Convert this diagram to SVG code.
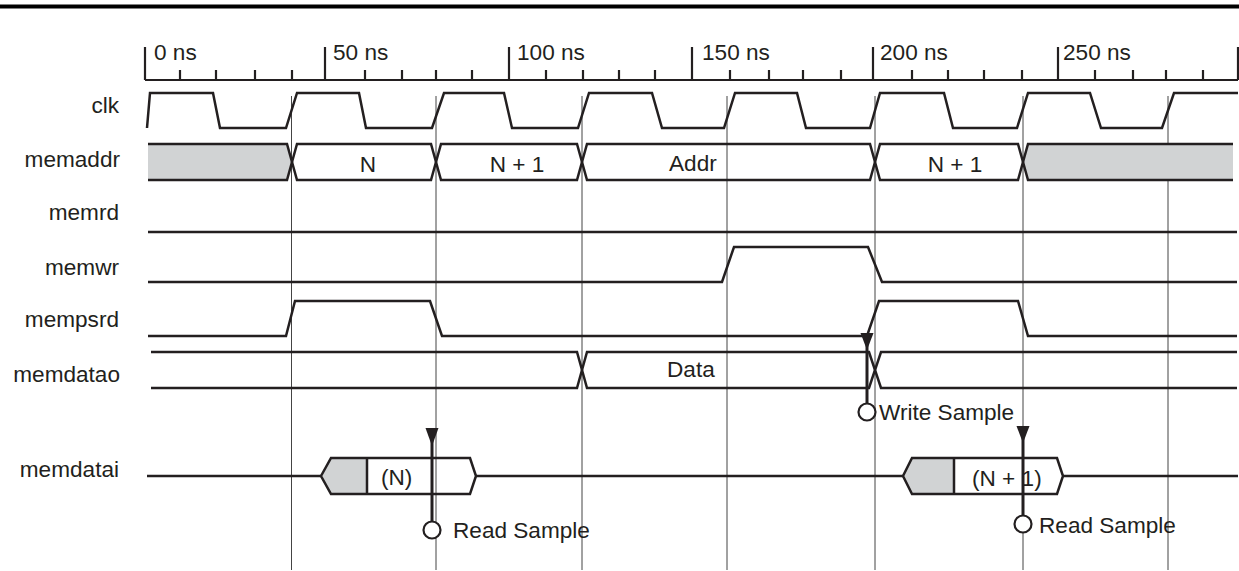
<svg xmlns="http://www.w3.org/2000/svg" width="1239" height="571" viewBox="0 0 1239 571">
<style>
text{font-family:"Liberation Sans",Arial,sans-serif;font-size:22.6px;fill:#231f20}
.lbl{text-anchor:end}
.mid{text-anchor:middle}
.w{fill:none;stroke:#231f20;stroke-width:2.5;stroke-linejoin:miter}
.gray{fill:#d1d3d4;stroke:none}
.grid{stroke:#444;stroke-width:1}
.tick{stroke:#231f20;stroke-width:2.2}
.mk{stroke:#231f20;stroke-width:3}
.circ{fill:#fff;stroke:#231f20;stroke-width:2.2}
.ah{fill:#231f20}
</style>
<rect x="0" y="4.5" width="1239" height="4" fill="#000"/>

<g id="ruler">
<line class="tick" x1="145" y1="80" x2="1238" y2="80"/>
<path class="tick" d="M145,47V80 M325,47V80 M509,47V80 M692,47V80 M873,47V80 M1058,47V80 M1238,47V80"/>
<path class="tick" d="M180,70V80 M216,70V80 M255,70V80 M292,70V80 M365,70V80 M402,70V80 M436,70V80 M472,70V80 M546,70V80 M583,70V80 M619,70V80 M655,70V80 M730,70V80 M769,70V80 M803,70V80 M841,70V80 M912,70V80 M948,70V80 M984,70V80 M1022,70V80 M1095,70V80 M1133,70V80 M1166,70V80 M1203,70V80"/>
<text x="154" y="60">0 ns</text>
<text x="333" y="60">50 ns</text>
<text x="517" y="60">100 ns</text>
<text x="702" y="60">150 ns</text>
<text x="880" y="60">200 ns</text>
<text x="1063" y="60">250 ns</text>
</g>

<g id="connectors">
<path class="grid" d="M291.5,96V570 M436,96V570 M582,96V570 M727,96V570 M875,96V570 M1023,96V570 M1168,96V570"/>
</g>

<g id="clk">
<text class="lbl" x="119" y="113">clk</text>
<path class="w" d="M147,128 L150,93 L213,93 L220,128 L286,128 L297,93 L359,93 L366,128 L432,128 L444,93 L504,93 L512,128 L578,128 L589,93 L652,93 L662,128 L724,128 L735,93 L797,93 L806,128 L870,128 L880,93 L944,93 L953,128 L1017,128 L1028,93 L1090,93 L1101,128 L1162,128 L1174,93 L1238,93"/>
</g>

<g id="memaddr">
<text class="lbl" x="120" y="167">memaddr</text>
<path class="gray" d="M148,144 L287,144 L292,162 L287,180 L148,180 Z"/>
<path class="gray" d="M1233,144 L1028,144 L1023,162 L1028,180 L1233,180 Z"/>
<path class="w" d="M148,144 L287,144 L292,162 L287,180 L148,180"/>
<path class="w" d="M292,162 L297,144 L431,144 L436,162 L431,180 L297,180 Z"/>
<path class="w" d="M436,162 L441,144 L577,144 L582,162 L577,180 L441,180 Z"/>
<path class="w" d="M582,162 L587,144 L870,144 L875,162 L870,180 L587,180 Z"/>
<path class="w" d="M875,162 L880,144 L1018,144 L1023,162 L1018,180 L880,180 Z"/>
<path class="w" d="M1233,144 L1028,144 L1023,162 L1028,180 L1233,180"/>
<text class="mid" x="368" y="172">N</text>
<text class="mid" x="517" y="172">N + 1</text>
<text x="669" y="171">Addr</text>
<text class="mid" x="955" y="172">N + 1</text>
</g>

<g id="memrd">
<text class="lbl" x="119" y="220">memrd</text>
<path class="w" d="M148,232 L1237,232"/>
</g>

<g id="memwr">
<text class="lbl" x="119" y="275">memwr</text>
<path class="w" d="M148,282 L722,282 L734,247 L868,247 L882,282 L1237,282"/>
</g>

<g id="mempsrd">
<text class="lbl" x="119" y="327">mempsrd</text>
<path class="w" d="M148,336 L286,336 L295,301 L430,301 L442,336 L867,336 L879,301 L1018,301 L1028,336 L1237,336"/>
</g>

<g id="memdatao">
<text class="lbl" x="120" y="382">memdatao</text>
<path class="w" d="M151,352 L577,352 L582,370 L577,388 L151,388"/>
<path class="w" d="M582,370 L587,352 L869,352 L875,370 L869,388 L587,388 Z"/>
<path class="w" d="M1237,352 L881,352 L875,370 L881,388 L1237,388"/>
<text x="667" y="377">Data</text>
</g>

<g id="memdatai">
<text class="lbl" x="119" y="477">memdatai</text>
<path class="w" d="M147,476 L321,476 M476,476 L903,476 M1063,476 L1238,476"/>
<path class="gray" d="M321,476 L331,458 L367,458 L367,494 L331,494 Z"/>
<path class="w" d="M321,476 L331,458 L470,458 L476,476 L470,494 L331,494 Z M367,458 V494"/>
<text x="381" y="485">(N)</text>
<path class="gray" d="M903,476 L912,458 L954,458 L954,494 L912,494 Z"/>
<path class="w" d="M903,476 L912,458 L1057,458 L1063,476 L1057,494 L912,494 Z M954,458 V494"/>
<text x="972" y="486">(N + 1)</text>
</g>

<g id="read-sample-1">
<line class="mk" x1="432" y1="430" x2="432" y2="522"/>
<polygon class="ah" points="425.5,428 438.5,428 432,446"/>
<circle class="circ" cx="432" cy="530" r="8.5"/>
<text x="453" y="538">Read Sample</text>
</g>

<g id="write-sample">
<line class="mk" x1="867" y1="335" x2="867" y2="404"/>
<polygon class="ah" points="860.5,333 873.5,333 867,350"/>
<circle class="circ" cx="867" cy="412" r="8.5"/>
<text x="879" y="420">Write Sample</text>
</g>

<g id="read-sample-2">
<line class="mk" x1="1023" y1="428" x2="1023" y2="516"/>
<polygon class="ah" points="1016.5,426 1029.5,426 1023,443"/>
<circle class="circ" cx="1023" cy="524" r="8.5"/>
<text x="1039" y="533">Read Sample</text>
</g>
</svg>
